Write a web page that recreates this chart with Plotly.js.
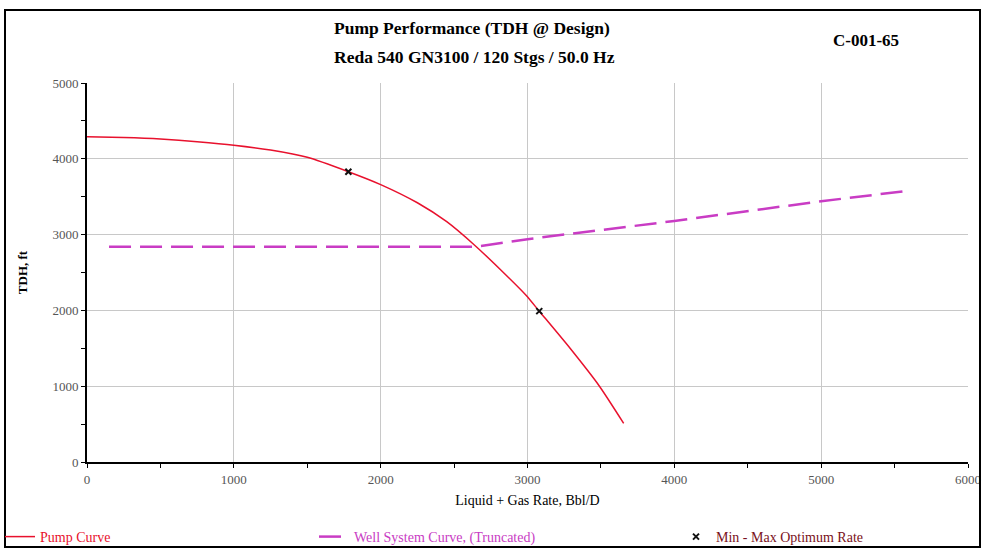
<!DOCTYPE html>
<html>
<head>
<meta charset="utf-8">
<script src="https://cdn.plot.ly/plotly-3.0.1.min.js"></script>
<style>html,body{margin:0;padding:0;background:#fff;}#chart{width:982px;height:548px;}</style>
</head>
<body>
<div id="chart"></div>
<script>
// Pump curve (rate, TDH)
const pumpRate = [0, 250, 500, 750, 1000, 1250, 1500, 1780, 2000, 2250, 2450, 2640, 2820, 2990, 3080, 3290, 3490, 3655];
const pumpTDH  = [4290, 4280, 4260, 4225, 4180, 4115, 4020, 3830, 3660, 3420, 3170, 2860, 2530, 2200, 1990, 1500, 1000, 510];
// Well system curve (truncated)
const wellRate = [150, 1000, 2000, 2650, 3000, 4000, 5000, 5600];
const wellTDH  = [2840, 2840, 2840, 2840, 2940, 3180, 3440, 3580];
// Min-Max optimum rate markers
const optRate = [1780, 3080];
const optTDH  = [3830, 1990];

const titleLine1 = "Pump Performance (TDH @ Design)";
const titleLine2 = "Reda 540 GN3100 / 120 Stgs / 50.0 Hz";
const caseLabel = "C-001-65";
const xTicks = [0, 1000, 2000, 3000, 4000, 5000, 6000];
const yTicks = [0, 1000, 2000, 3000, 4000, 5000];

const serif = "Liberation Serif, Times New Roman, serif";

const traces = [
  {x: pumpRate, y: pumpTDH, mode: 'lines', name: 'Pump Curve', line: {color: '#e8112d', width: 1.5, shape: 'spline', smoothing: 0.6}, legend: 'legend'},
  {x: wellRate, y: wellTDH, mode: 'lines', name: 'Well System Curve, (Truncated)', line: {color: '#c93cc4', width: 2.5, dash: '22px,9px'}, legend: 'legend2'},
  {x: optRate, y: optTDH, mode: 'markers', name: 'Min - Max Optimum Rate', marker: {symbol: 'x-thin', size: 6, color: '#111', line: {width: 2, color: '#111'}}, legend: 'legend3'}
];

const W = 982, H = 548, L = 87, R = 14, T = 83, B = 86;
const pw = W - L - R, ph = H - T - B;
const px = v => (v - L) / pw;
const py = v => (H - B - v) / ph;

const legendBase = {orientation: 'h', bgcolor: 'rgba(0,0,0,0)', yanchor: 'middle', xanchor: 'left', itemwidth: 30};

const layout = {
  width: W, height: H,
  margin: {l: L, r: R, t: T, b: B, autoexpand: false},
  paper_bgcolor: '#fff', plot_bgcolor: '#fff',
  font: {family: serif, size: 12, color: '#000'},
  showlegend: true,
  xaxis: {
    range: [0, 6000], tickvals: xTicks, ticktext: xTicks.map(String),
    showgrid: true, gridcolor: '#c8c8c8', gridwidth: 1,
    showline: true, linecolor: '#000', linewidth: 2,
    ticks: 'outside', ticklen: 4, tickcolor: '#000',
    minor: {dtick: 500, ticks: 'outside', ticklen: 4, tickcolor: '#000', showgrid: false},
    tickfont: {family: serif, size: 13, color: '#555'},
    zeroline: false, automargin: false,
    title: {text: 'Liquid + Gas Rate, Bbl/D', font: {family: serif, size: 14, color: '#000'}, standoff: 10}
  },
  yaxis: {
    range: [0, 5000], tickvals: yTicks, ticktext: yTicks.map(String),
    showgrid: true, gridcolor: '#c8c8c8', gridwidth: 1,
    showline: true, linecolor: '#000', linewidth: 2,
    ticks: 'outside', ticklen: 4, tickcolor: '#000',
    minor: {dtick: 500, ticks: 'outside', ticklen: 4, tickcolor: '#000', showgrid: false},
    tickfont: {family: serif, size: 13, color: '#555'},
    zeroline: false, automargin: false,
    title: {text: '<b>TDH, ft</b>', font: {family: serif, size: 13, color: '#000'}, standoff: 22}
  },
  legend: Object.assign({}, legendBase, {x: px(0), y: py(537), font: {family: serif, size: 14, color: '#e8112d'}}),
  legend2: Object.assign({}, legendBase, {x: px(314), y: py(537), font: {family: serif, size: 14, color: '#c93cc4'}}),
  legend3: Object.assign({}, legendBase, {x: px(676), y: py(537), font: {family: serif, size: 14, color: '#7a1020'}}),
  annotations: [
    {xref: 'paper', yref: 'paper', x: px(472), y: py(28), text: '<b>' + titleLine1 + '</b>', showarrow: false, font: {family: serif, size: 17.5, color: '#000'}, xanchor: 'center', yanchor: 'middle'},
    {xref: 'paper', yref: 'paper', x: px(474), y: py(57), text: '<b>' + titleLine2 + '</b>', showarrow: false, font: {family: serif, size: 17.5, color: '#000'}, xanchor: 'center', yanchor: 'middle'},
    {xref: 'paper', yref: 'paper', x: px(866), y: py(40), text: '<b>' + caseLabel + '</b>', showarrow: false, font: {family: serif, size: 17, color: '#000'}, xanchor: 'center', yanchor: 'middle'}
  ],
  shapes: [
    {type: 'rect', xref: 'paper', yref: 'paper', x0: px(5), x1: px(980), y0: py(547), y1: py(10), line: {color: '#000', width: 2}, fillcolor: 'rgba(0,0,0,0)', layer: 'above'}
  ]
};

Plotly.newPlot('chart', traces, layout, {displayModeBar: false, staticPlot: true});
</script>
</body>
</html>
